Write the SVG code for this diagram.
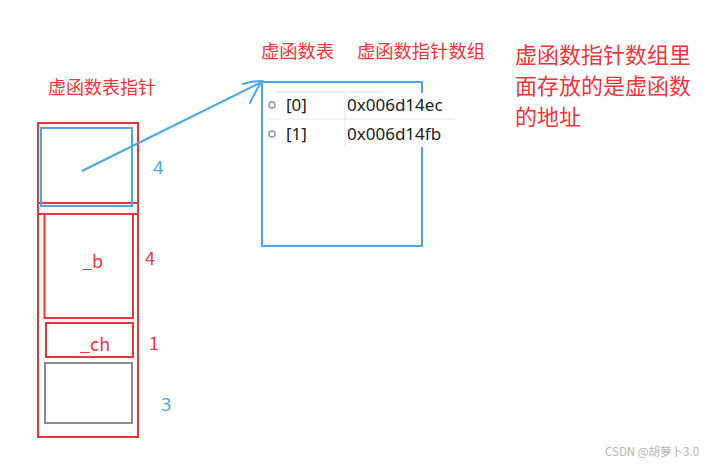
<svg xmlns="http://www.w3.org/2000/svg" width="722" height="467" viewBox="0 0 722 467">
<style>
.red{fill:none;stroke:#e8353b;stroke-width:2}
.blue{fill:none;stroke:#4ba6e6;stroke-width:2}
.gray{fill:none;stroke:#8c8c8c;stroke-width:2}
.tr{font-family:"Noto Sans CJK SC","Noto Sans",sans-serif;fill:#f0353b}
.tb{font-family:"Noto Sans","Noto Sans CJK SC",sans-serif;fill:#4ba6e6}
.tt{font-family:"Noto Sans","Liberation Sans",sans-serif;fill:#222;font-size:17px}
</style>
<rect width="722" height="467" fill="#fff"/>
<g id="labels">
<text class="tr" x="48" y="94" font-size="18">虚函数表指针</text>
<text class="tr" x="261" y="58" font-size="18.3">虚函数表</text>
<text class="tr" x="357" y="58" font-size="18.3">虚函数指针数组</text>
<text class="tr" x="515" y="63" font-size="22">虚函数指针数组里</text>
<text class="tr" x="515" y="94" font-size="22">面存放的是虚函数</text>
<text class="tr" x="515" y="125" font-size="22">的地址</text>
</g>
<g id="object">
<rect class="red" x="38" y="123" width="100" height="314"/>
<rect class="red" x="38" y="123" width="100" height="80"/>
<rect class="red" x="38" y="123" width="100" height="91"/>
</g>
<g id="vptr">
<rect class="blue" x="41" y="128" width="91" height="78"/>
<text class="tb" x="153" y="174" font-size="18">4</text>
</g>
<g id="member_b">
<rect class="red" x="44.5" y="214" width="88.5" height="104"/>
<text class="tr" x="82" y="268" font-size="18" font-family="Noto Sans">_b</text>
<text class="tr" x="145" y="265" font-size="18" font-family="Noto Sans">4</text>
</g>
<g id="member_ch">
<rect class="red" x="46" y="323" width="87" height="34"/>
<text class="tr" x="80" y="351" font-size="18" font-family="Noto Sans">_ch</text>
<text class="tr" x="149" y="350" font-size="18" font-family="Noto Sans">1</text>
</g>
<g id="padding">
<rect class="gray" x="45" y="363" width="87" height="60"/>
<text class="tb" x="161" y="411" font-size="18">3</text>
</g>
<g id="vtable">
<rect class="blue" x="262" y="82" width="160" height="164"/>
<rect x="264" y="93" width="192" height="54" fill="#fff"/>
<line x1="275" y1="92" x2="383" y2="92" stroke="#ddd" stroke-width="1"/>
<line x1="345" y1="94" x2="345" y2="147" stroke="#e4e4e4" stroke-width="1"/>
<line x1="268" y1="119" x2="455" y2="119" stroke="#e8e8e8" stroke-width="1"/>
<circle cx="272" cy="105" r="3" fill="none" stroke="#9a8fb5" stroke-width="1.5"/>
<circle cx="272" cy="134" r="3" fill="none" stroke="#9a8fb5" stroke-width="1.5"/>
<text class="tt" x="286" y="111">[0]</text>
<text class="tt" x="347" y="111">0x006d14ec</text>
<text class="tt" x="286" y="140">[1]</text>
<text class="tt" x="347" y="140">0x006d14fb</text>
</g>
<g id="connectors">
<path class="blue" d="M82 171 L262 82"/>
<path class="blue" d="M243 84 Q252 81 262 81 Q256 90 250 103" stroke-linecap="round"/>
</g>
<text x="605" y="456" font-family="Noto Sans CJK SC,sans-serif" font-size="11.5" fill="#b5b5b5">CSDN @胡萝卜3.0</text>
</svg>
